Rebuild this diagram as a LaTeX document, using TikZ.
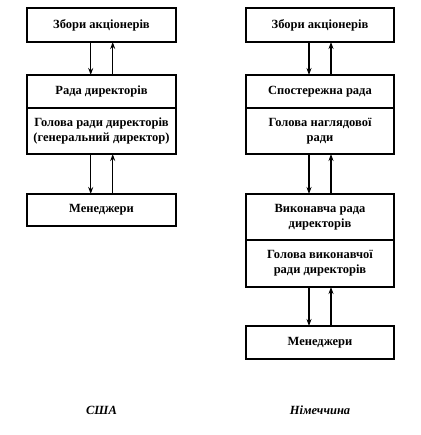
\documentclass[tikz,border=0pt]{standalone}
\usepackage{fontspec}
\setmainfont{Liberation Serif}
\usetikzlibrary{arrows.meta}
\begin{document}
\begin{tikzpicture}[x=1pt,y=-1pt,
  blk/.style={draw,line width=1.1pt,inner sep=0pt},
  lbl/.style={font=\bfseries\fontsize{12.5}{15}\selectfont,align=center},
  captxt/.style={font=\bfseries\itshape\fontsize{12.5}{15}\selectfont},
  arr/.style={line width=1.1pt,-{Stealth[length=7pt,width=5pt]}}]
\useasboundingbox (0,0) rectangle (420,435);
% left column (USA)
\draw[blk] (27,8) rectangle (176,42);
\node[lbl] (a1) at (101.5,25) {Збори акціонерів};
\draw[blk] (27,75) rectangle (176,154);
\draw[line width=1.1pt] (27,108) -- (176,108);
\node[lbl] (a2) at (101.5,91.5) {Рада директорів};
\node[lbl] (a3) at (101.5,131) {Голова ради директорів\\(генеральний директор)};
\draw[blk] (27,194) rectangle (176,226);
\node[lbl] (a4) at (101.5,210) {Менеджери};
\coordinate (l1t) at (90.7,42); \coordinate (l1b) at (90.7,75);
\coordinate (l2t) at (112.7,42); \coordinate (l2b) at (112.7,75);
\coordinate (l3t) at (90.7,154); \coordinate (l3b) at (90.7,194);
\coordinate (l4t) at (112.7,154); \coordinate (l4b) at (112.7,194);
\draw[arr] (l1t) -- (l1b);
\draw[arr] (l2b) -- (l2t);
\draw[arr] (l3t) -- (l3b);
\draw[arr] (l4b) -- (l4t);
\node[captxt] (c1) at (101.5,410) {США};
% right column (Germany)
\draw[blk] (246,8) rectangle (394,42);
\node[lbl] (b1) at (320,25) {Збори акціонерів};
\draw[blk] (246,75) rectangle (394,154);
\draw[line width=1.1pt] (246,108) -- (394,108);
\node[lbl] (b2) at (320,91.5) {Спостережна рада};
\node[lbl] (b3) at (320,131) {Голова наглядової\\ради};
\draw[blk] (246,194) rectangle (394,287);
\draw[line width=1.1pt] (246,240) -- (394,240);
\node[lbl] (b4) at (320,217) {Виконавча рада\\директорів};
\node[lbl] (b5) at (320,263.5) {Голова виконавчої\\ради директорів};
\draw[blk] (246,326) rectangle (394,359);
\node[lbl] (b6) at (320,342.5) {Менеджери};
\coordinate (r1t) at (309,42); \coordinate (r1b) at (309,75);
\coordinate (r2t) at (331,42); \coordinate (r2b) at (331,75);
\coordinate (r3t) at (309,154); \coordinate (r3b) at (309,194);
\coordinate (r4t) at (331,154); \coordinate (r4b) at (331,194);
\coordinate (r5t) at (309,287); \coordinate (r5b) at (309,326);
\coordinate (r6t) at (331,287); \coordinate (r6b) at (331,326);
\draw[arr] (r1t) -- (r1b);
\draw[arr] (r2b) -- (r2t);
\draw[arr] (r3t) -- (r3b);
\draw[arr] (r4b) -- (r4t);
\draw[arr] (r5t) -- (r5b);
\draw[arr] (r6b) -- (r6t);
\node[captxt] (c2) at (320,410) {Німеччина};
\end{tikzpicture}
\end{document}
